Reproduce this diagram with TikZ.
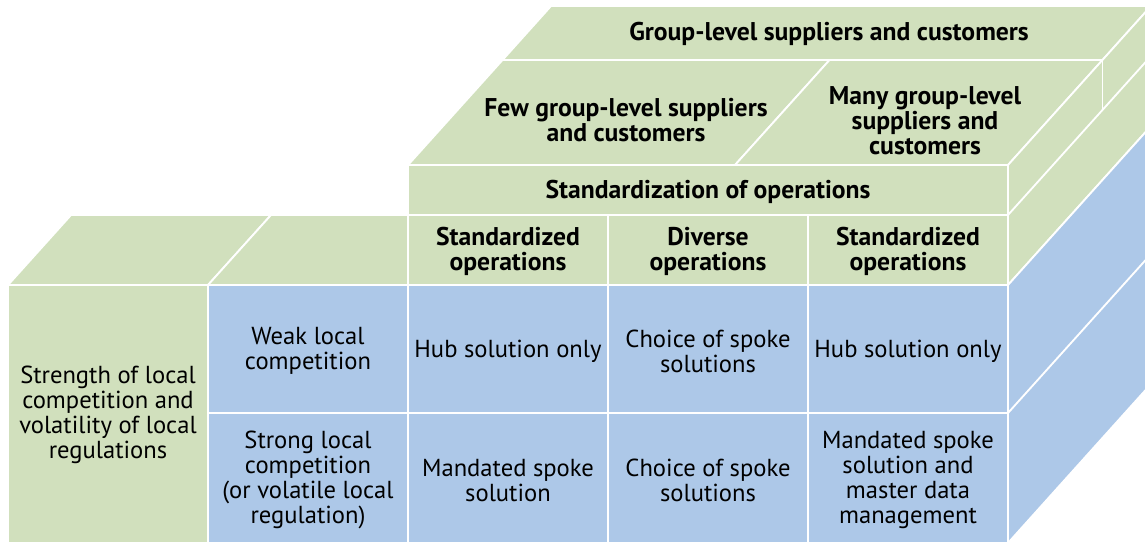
\documentclass[tikz,border=0pt]{standalone}
\usepackage{fontspec}
\setmainfont{PT Sans}
\definecolor{cubegreen}{HTML}{D1E0BD}
\definecolor{cubeblue}{HTML}{ADC8E8}
\begin{document}
\begin{tikzpicture}
    [
    x=0.017cm, y=-0.017cm,
    face/.style={draw=white, line width=0.9pt, line join=miter},
    greenface/.style={face, fill=cubegreen},
    blueface/.style={face, fill=cubeblue},
    txt/.style={align=center, inner sep=0pt, yshift=-1pt, font=\fontsize{11.9}{12.1}\selectfont},
    head/.style={txt, font=\fontsize{12.4}{12.1}\selectfont\bfseries}
    ]
    \useasboundingbox (0,0) rectangle (1145,543);
    \clip (0,0) rectangle (1145,543);

    % top faces
    \path [greenface] (502.5,60) -- (1102.5,60) -- (1151,6) -- (551,6) -- cycle;
    \path [greenface] (408,165) -- (735,165) -- (829.5,60) -- (502.5,60) -- cycle;
    \path [greenface] (735,165) -- (1008,165) -- (1102.5,60) -- (829.5,60) -- cycle;
    \path [greenface] (8,285) -- (208,285) -- (271,215) -- (71,215) -- cycle;
    \path [greenface] (208,285) -- (408,285) -- (408,215) -- (271,215) -- cycle;

    % side face
    \path [greenface] (1008,165) -- (1151,6) -- (1151,126) -- (1008,285) -- cycle;
    \path [blueface] (1008,285) -- (1151,126) -- (1151,384) -- (1008,543) -- cycle;
    \draw [face] (1008,215) -- (1151,56);
    \draw [face] (1008,413) -- (1151,254);
    \draw [face] (1102.5,60) -- (1102.5,110);

    % front face
    \path [greenface] (8,285) rectangle (208,543);
    \path [greenface] (408,165) rectangle (1008,215);
    \foreach \x in {408,608,808}
      \path [greenface] (\x,215) rectangle +(200,70);
    \foreach \x in {208,408,608,808} {
      \path [blueface] (\x,285) rectangle +(200,128);
      \path [blueface] (\x,413) rectangle +(200,130);
    }

    % labels
    \node (group) at (829,32) [head] {Group-level suppliers and customers};
    \node (few) at (626,118) [head] {Few group-level suppliers\\and customers};
    \node (many) at (925,119) [head] {Many group-level\\suppliers and\\customers};
    \node (std) at (708,190) [head] {Standardization of operations};
    \node (stdops1) at (508,249) [head] {Standardized\\operations};
    \node (divops) at (708,249) [head] {Diverse\\operations};
    \node (stdops2) at (908,249) [head] {Standardized\\operations};

    \node (strength) at (108,413) [txt] {Strength of local\\competition and\\volatility of local\\regulations};
    \node (weak) at (308,349) [txt] {Weak local\\competition};
    \node (strong) at (308,478) [txt] {Strong local\\competition\\(or volatile local\\regulation)};

    \node (hub1) at (508,349) [txt] {Hub solution only};
    \node (choice1) at (708,349) [txt] {Choice of spoke\\solutions};
    \node (hub2) at (908,349) [txt] {Hub solution only};
    \node (mandated1) at (508,478) [txt] {Mandated spoke\\solution};
    \node (choice2) at (708,478) [txt] {Choice of spoke\\solutions};
    \node (mandated2) at (908,478) [txt] {Mandated spoke\\solution and\\master data\\management};
  \end{tikzpicture}
\end{document}
